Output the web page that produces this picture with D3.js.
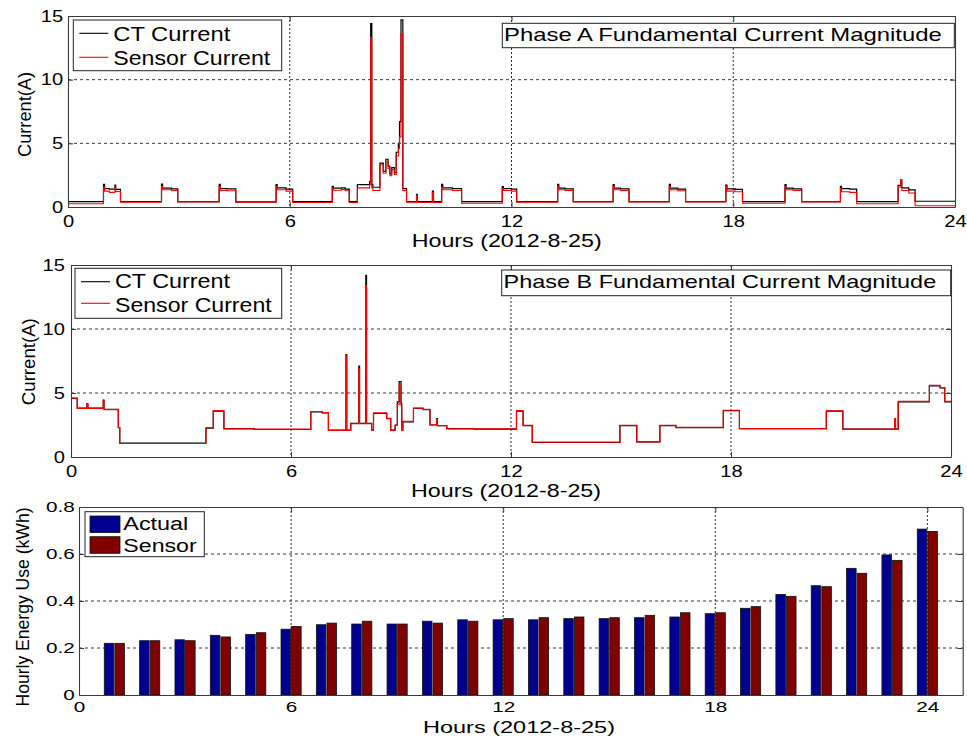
<!DOCTYPE html>
<html>
<head>
<meta charset="utf-8">
<script src="https://cdn.jsdelivr.net/npm/d3@7"></script>
<style>
  body { margin: 0; background: #fff; }
  svg { display: block; }
  text { font-family: "Liberation Sans", Arial, Helvetica, sans-serif; fill: #000; }
</style>
</head>
<body>
<svg id="fig" width="967" height="736"></svg>
<script>
// ---------- axis ticks ----------
const hourTicks = [0, 6, 12, 18, 24];
const ampTicks = [0, 5, 10, 15];
const energyTicks = [0, 0.2, 0.4, 0.6, 0.8];
const energyTickLabels = ["0", "0.2", "0.4", "0.6", "0.8"];

// ---------- Phase A current, step series [hour, amps] ----------
const ctCurrentA = [
  [0.00,0.42],[0.96,1.78],[0.99,1.45],[1.12,1.40],[1.27,1.72],[1.29,1.38],[1.42,0.42],
  [2.53,1.80],[2.56,1.48],[2.80,1.42],[2.97,0.42],
  [4.09,1.78],[4.12,1.45],[4.30,1.42],[4.54,0.40],
  [5.63,1.75],[5.66,1.50],[5.90,1.40],[6.08,0.42],
  [7.15,1.62],[7.18,1.48],[7.40,1.50],[7.50,1.40],[7.61,0.42],
  [7.83,1.75],[8.16,2.00],[8.19,14.4],[8.22,1.75],[8.25,1.55],[8.44,3.45],[8.53,2.80],[8.60,3.75],
  [8.66,3.20],[8.71,2.60],[8.76,3.10],[8.83,2.70],[8.88,4.30],[8.94,5.00],[8.97,6.70],[9.01,14.7],
  [9.06,1.45],[9.16,0.42],
  [9.43,1.00],[9.45,0.42],
  [9.86,1.25],[9.89,0.42],
  [10.11,1.78],[10.14,1.50],[10.40,1.45],[10.65,0.42],
  [11.75,1.60],[11.78,1.45],[12.00,1.40],[12.14,0.42],
  [13.25,1.78],[13.28,1.48],[13.45,1.42],[13.67,0.42],
  [14.75,1.76],[14.78,1.48],[14.95,1.42],[15.18,0.42],
  [16.27,1.78],[16.30,1.48],[16.50,1.40],[16.71,0.42],
  [17.80,1.72],[17.83,1.42],[18.05,1.38],[18.25,0.42],
  [19.40,1.76],[19.43,1.48],[19.62,1.42],[19.85,0.42],
  [20.90,1.62],[20.93,1.45],[21.15,1.40],[21.34,0.42],
  [22.46,1.70],[22.53,2.10],[22.56,1.50],[22.75,1.35],[22.92,0.45],[24.00,0.45]
];
const sensorCurrentA = [
  [0.00,0.25],[0.96,1.55],[0.99,1.25],[1.12,1.15],[1.27,1.55],[1.29,1.22],[1.42,0.38],
  [2.53,1.60],[2.56,1.35],[2.80,1.30],[2.97,0.40],
  [4.09,1.60],[4.12,1.30],[4.30,1.28],[4.54,0.38],
  [5.63,1.58],[5.66,1.35],[5.90,1.25],[6.08,0.35],
  [7.15,1.50],[7.18,1.32],[7.40,1.38],[7.50,1.28],[7.61,0.35],
  [7.83,1.50],[8.16,1.75],[8.19,13.3],[8.22,1.50],[8.25,1.30],[8.44,3.30],[8.53,2.65],[8.60,3.55],
  [8.66,3.00],[8.71,2.45],[8.76,2.95],[8.83,2.55],[8.88,4.00],[8.94,4.60],[8.97,5.50],[9.01,13.6],
  [9.06,1.30],[9.16,0.38],
  [9.43,0.90],[9.45,0.35],
  [9.86,1.15],[9.89,0.35],
  [10.11,1.55],[10.14,1.35],[10.40,1.30],[10.65,0.30],
  [11.75,1.45],[11.78,1.30],[12.00,1.25],[12.14,0.38],
  [13.25,1.62],[13.28,1.35],[13.45,1.30],[13.67,0.40],
  [14.75,1.62],[14.78,1.35],[14.95,1.30],[15.18,0.40],
  [16.27,1.60],[16.30,1.35],[16.50,1.28],[16.71,0.40],
  [17.80,1.60],[17.83,1.25],[18.05,1.20],[18.25,0.30],
  [19.40,1.62],[19.43,1.35],[19.62,1.30],[19.85,0.40],
  [20.90,1.45],[20.93,1.20],[21.15,1.15],[21.34,0.25],
  [22.46,1.55],[22.53,2.15],[22.56,1.30],[22.75,1.10],[22.92,0.10],[24.00,0.10]
];

// ---------- Phase B current, step series [hour, amps] ----------
const ctCurrentB = [
  [0.00,4.58],[0.17,3.82],[0.43,4.15],[0.46,3.82],[0.88,4.45],[0.90,3.72],[1.26,3.70],[1.29,2.30],
  [1.33,1.08],[3.68,2.25],[3.88,3.58],[4.17,2.22],[5.00,2.15],[6.54,3.52],[6.85,3.45],[7.02,2.10],
  [7.50,8.00],[7.52,2.10],[7.63,2.62],[7.85,7.10],[7.87,2.62],[8.04,14.2],[8.06,2.62],[8.20,2.10],
  [8.25,3.40],[8.61,3.00],[8.72,2.10],[8.84,2.50],[8.90,4.30],[8.95,5.90],[9.00,4.20],[9.02,2.10],
  [9.05,2.75],[9.34,3.80],[9.60,3.70],[9.79,2.50],[9.97,3.00],[9.99,2.45],[10.25,2.22],[11.00,2.18],
  [12.15,3.58],[12.33,2.45],[12.58,1.15],[14.97,2.45],[15.43,1.18],[16.06,2.45],[16.50,2.30],
  [17.79,3.62],[18.23,2.22],[20.60,3.58],[21.05,2.18],[22.56,4.30],[23.41,5.55],[23.70,5.40],
  [23.83,4.30],[24.00,4.30]
];
const sensorCurrentB = [
  [0.00,4.60],[0.17,3.80],[0.43,4.10],[0.46,3.80],[0.88,4.40],[0.90,3.70],[1.26,3.72],[1.29,2.30],
  [1.33,1.05],[3.68,2.28],[3.88,3.62],[4.17,2.20],[5.00,2.18],[6.54,3.55],[6.85,3.48],[7.02,2.08],
  [7.50,7.95],[7.52,2.08],[7.63,2.60],[7.85,6.90],[7.87,2.60],[8.04,13.4],[8.06,2.60],[8.20,2.08],
  [8.25,3.45],[8.61,3.02],[8.72,2.08],[8.84,2.48],[8.90,4.10],[8.95,5.60],[9.00,4.00],[9.02,2.08],
  [9.05,2.78],[9.34,3.82],[9.60,3.72],[9.79,2.52],[9.97,2.95],[9.99,2.45],[10.25,2.20],[11.00,2.20],
  [12.15,3.62],[12.33,2.48],[12.58,1.15],[14.97,2.48],[15.43,1.18],[16.06,2.48],[16.50,2.32],
  [17.79,3.65],[18.23,2.22],[20.60,3.60],[21.05,2.18],[22.46,3.00],[22.49,2.18],[22.56,4.35],
  [23.41,5.60],[23.70,5.42],[23.83,4.35],[24.00,4.35]
];

// ---------- hourly energy (kWh) ----------
const hours = [1,2,3,4,5,6,7,8,9,10,11,12,13,14,15,16,17,18,19,20,21,22,23,24];
const actualKWh = [0.220,0.231,0.235,0.254,0.258,0.280,0.299,0.302,0.302,0.314,0.320,0.320,
                   0.320,0.325,0.325,0.329,0.332,0.346,0.369,0.428,0.465,0.539,0.596,0.706];
const sensorKWh = [0.220,0.231,0.231,0.247,0.265,0.292,0.306,0.314,0.302,0.306,0.314,0.325,
                   0.329,0.332,0.329,0.339,0.350,0.350,0.376,0.420,0.461,0.518,0.573,0.696];

const xLabel = "Hours (2012-8-25)";

// ---------- drawing ----------
const svg = d3.select("#fig");
svg.append("rect").attr("width", 967).attr("height", 736).attr("fill", "#fff");

const FRAME = "#3a3a3a";

function addText(g, s, x, y, o = {}) {
  const t = g.append("text")
    .attr("transform", `translate(${x},${y})` + (o.rot ? ` rotate(${o.rot})` : ""))
    .attr("font-size", o.size || 18)
    .attr("text-anchor", o.anchor || "start")
    .text(s);
  if (o.len) t.attr("textLength", o.len).attr("lengthAdjust", "spacingAndGlyphs");
  return t;
}

function drawGrid(g, x, y, xt, yt) {
  const [x0, x1] = x.range(), [yb, yt0] = y.range();
  const [dx0, dx1] = x.domain(), [dy0, dy1] = y.domain();
  g.append("g").selectAll("line").data(yt.filter(v => v > dy0 && v < dy1)).join("line")
    .attr("x1", x0).attr("x2", x1).attr("y1", d => y(d)).attr("y2", d => y(d))
    .attr("stroke", "#222").attr("stroke-width", 0.9).attr("stroke-dasharray", "3,3");
  g.append("g").selectAll("line").data(xt.filter(v => v > dx0 && v < dx1)).join("line")
    .attr("y1", yt0).attr("y2", yb).attr("x1", d => x(d)).attr("x2", d => x(d))
    .attr("stroke", "#111").attr("stroke-width", 0.9).attr("stroke-dasharray", "2,2");
}

function drawAxes(g, x, y, xt, yt, yfmt, o) {
  const [x0, x1] = x.range(), [yb, ytop] = y.range();
  const style = sel => {
    sel.select(".domain").attr("stroke", FRAME).attr("stroke-width", 1.1);
    sel.selectAll(".tick line").attr("stroke", FRAME);
    sel.selectAll(".tick text").attr("font-size", o.fs).attr("fill", "#000")
      .attr("font-family", '"Liberation Sans", Arial, Helvetica, sans-serif')
      .attr("transform", `scale(${o.sx},1)`);
  };
  g.append("g").attr("transform", `translate(0,${yb})`)
    .call(d3.axisBottom(x).tickValues(xt).tickSize(-5).tickSizeOuter(0).tickPadding(o.xPad).tickFormat(d3.format("d")))
    .call(style);
  g.append("g").attr("transform", `translate(0,${ytop})`)
    .call(d3.axisTop(x).tickValues(xt).tickSize(-5).tickSizeOuter(0).tickFormat(""))
    .call(style);
  g.append("g").attr("transform", `translate(${x0},0)`)
    .call(d3.axisLeft(y).tickValues(yt).tickSize(-5).tickSizeOuter(0).tickPadding(o.yPad).tickFormat(yfmt))
    .call(style);
  g.append("g").attr("transform", `translate(${x1},0)`)
    .call(d3.axisRight(y).tickValues(yt).tickSize(-5).tickSizeOuter(0).tickFormat(""))
    .call(style);
}

function clipFor(id, x, y) {
  const [x0, x1] = x.range(), [yb, yt] = y.range();
  svg.append("clipPath").attr("id", id).append("rect")
    .attr("x", x0).attr("y", yt).attr("width", x1 - x0).attr("height", yb - yt);
  return `url(#${id})`;
}

function currentPanel(cfg) {
  const g = svg.append("g");
  const x = d3.scaleLinear().domain([0, 24]).range(cfg.xr);
  const y = d3.scaleLinear().domain([0, 15]).range(cfg.yr);
  drawGrid(g, x, y, hourTicks, ampTicks);
  const clip = clipFor(cfg.id, x, y);
  const line = d3.line().x(d => x(d[0])).y(d => y(d[1])).curve(d3.curveStepAfter);
  const lines = g.append("g").attr("clip-path", clip).attr("fill", "none");
  lines.append("path").datum(cfg.ct).attr("d", line).attr("stroke", "#000").attr("stroke-width", 1.2);
  lines.append("path").datum(cfg.sensor).attr("d", line).attr("stroke", "#ff0000").attr("stroke-width", 1.1);
  drawAxes(g, x, y, hourTicks, ampTicks, d3.format("d"), { fs: 16.5, sx: 1.22, xPad: 8, yPad: cfg.yPad });

  // axis titles
  addText(g, "Current(A)", cfg.ylab[0], cfg.ylab[1], { rot: -90, anchor: "middle", size: 19, len: cfg.ylab[2] });
  addText(g, xLabel, cfg.xlab[0], cfg.xlab[1], { anchor: "middle", size: 18.5, len: 190 });

  // legend
  const L = cfg.legend;
  g.append("rect").attr("x", L.x).attr("y", L.y).attr("width", L.w).attr("height", L.h)
    .attr("fill", "#fff").attr("stroke", "#222").attr("stroke-width", 1);
  [["CT Current", "#000", L.l1, L.b1, L.len1], ["Sensor Current", "#ff0000", L.l2, L.b2, L.len2]]
    .forEach(([s, c, ly, by, len]) => {
      g.append("line").attr("x1", L.x + 6).attr("x2", L.x + 35).attr("y1", ly).attr("y2", ly)
        .attr("stroke", c).attr("stroke-width", 1.1);
      addText(g, s, L.tx, by, { size: 20, len });
    });

  // title box
  const T = cfg.title;
  g.append("rect").attr("x", T.x).attr("y", T.y).attr("width", T.w).attr("height", T.h)
    .attr("fill", "#fff").attr("stroke", "#222").attr("stroke-width", 1);
  addText(g, T.text, T.x + 1.8, T.b, { size: 18.5, len: T.len });
}

currentPanel({
  id: "clipA", xr: [68, 955], yr: [207, 16], yPad: 4,
  ct: ctCurrentA, sensor: sensorCurrentA,
  ylab: [31, 114.5, 85], xlab: [506.7, 246.7],
  legend: { x: 73.3, y: 20, w: 208.4, h: 50.7, l1: 33.3, l2: 57.3, tx: 113.3, b1: 40.7, b2: 64.5, len1: 117, len2: 157 },
  title: { x: 502.3, y: 23.3, w: 452, h: 24.4, b: 40.7, len: 437.7, text: "Phase A Fundamental Current Magnitude" }
});

currentPanel({
  id: "clipB", xr: [71, 951], yr: [457, 265], yPad: 5,
  ct: ctCurrentB, sensor: sensorCurrentB,
  ylab: [35, 361.7, 87], xlab: [506, 497],
  legend: { x: 75, y: 268.3, w: 206.7, h: 50, l1: 281.7, l2: 303.3, tx: 115, b1: 288.3, b2: 311.7, len1: 115, len2: 156.7 },
  title: { x: 501.7, y: 270, w: 449, h: 25.7, b: 288.3, len: 432.7, text: "Phase B Fundamental Current Magnitude" }
});

// ---------- hourly energy bars ----------
(function energyPanel() {
  const g = svg.append("g");
  const x = d3.scaleLinear().domain([0, 25]).range([79, 962.7]);
  const y = d3.scaleLinear().domain([0, 0.8]).range([695, 507]);
  drawGrid(g, x, y, hourTicks, energyTicks);

  const barW = 0.27, off = 0.15;
  const series = [
    { vals: actualKWh, color: "rgb(0,0,143)", dx: -off },
    { vals: sensorKWh, color: "rgb(128,0,0)", dx: off }
  ];
  series.forEach(s => {
    g.append("g").selectAll("rect").data(hours).join("rect")
      .attr("x", h => x(h + s.dx - barW / 2))
      .attr("width", x(barW) - x(0))
      .attr("y", (h, i) => y(s.vals[i]))
      .attr("height", (h, i) => y(0) - y(s.vals[i]))
      .attr("fill", s.color).attr("stroke", "#111").attr("stroke-width", 0.8);
  });

  drawAxes(g, x, y, hourTicks, energyTicks, (d, i) => energyTickLabels[i], { fs: 15, sx: 1.38, xPad: 6.5, yPad: 3 });

  addText(g, "Hourly Energy Use (kWh)", 29, 607, { rot: -90, anchor: "middle", size: 18, len: 199 });
  addText(g, xLabel, 519, 733, { anchor: "middle", size: 16.5, len: 192 });

  // legend
  g.append("rect").attr("x", 85).attr("y", 511.7).attr("width", 119.3).attr("height", 45)
    .attr("fill", "#fff").attr("stroke", "#222").attr("stroke-width", 1);
  [["Actual", series[0].color, 516, 530, 65], ["Sensor", series[1].color, 536.7, 551.7, 73.4]]
    .forEach(([s, c, sy, by, len]) => {
      g.append("rect").attr("x", 90).attr("y", sy).attr("width", 30).attr("height", 16.6)
        .attr("fill", c).attr("stroke", "#111").attr("stroke-width", 0.8);
      addText(g, s, 123.3, by, { size: 18, len });
    });
})();
</script>
</body>
</html>
